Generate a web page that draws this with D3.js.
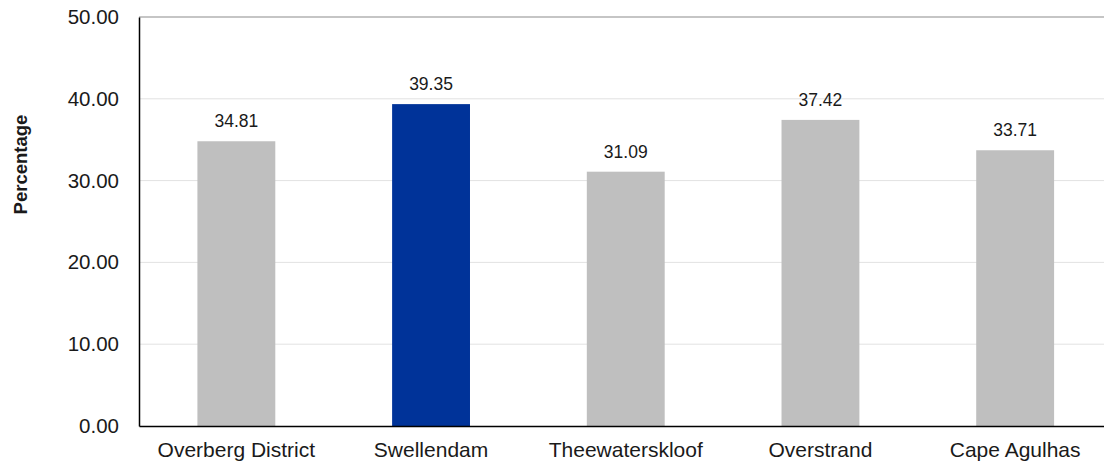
<!DOCTYPE html>
<html>
<head>
<meta charset="utf-8">
<script src="https://cdn.jsdelivr.net/npm/d3@7"></script>
<style>
  html, body { margin: 0; padding: 0; background: #fff; }
  svg { display: block; font-family: "Liberation Sans", Arial, sans-serif; }
</style>
</head>
<body>
<svg id="chart" width="1104" height="465"></svg>
<script>
// Share of population per municipality (percentage)
const categories = ["Overberg District", "Swellendam", "Theewaterskloof", "Overstrand", "Cape Agulhas"];
const values = [34.81, 39.35, 31.09, 37.42, 33.71];
const highlighted = ["Swellendam"];
const yTicks = [0, 10, 20, 30, 40, 50];
const yLabel = "Percentage";

const svg = d3.select("#chart");
const margin = { left: 139, top: 17, bottom: 39 };
const plotRight = 1112.5;
const height = 465;
const y0 = height - margin.bottom;

const x = d3.scaleBand()
  .domain(categories)
  .range([margin.left, plotRight])
  .paddingInner(0.6)
  .paddingOuter(0.3);

const y = d3.scaleLinear()
  .domain([0, 50])
  .range([y0, margin.top]);

// horizontal gridlines
svg.append("g")
  .selectAll("line")
  .data(yTicks.filter(t => t > 0 && t < 50))
  .join("line")
  .attr("x1", margin.left)
  .attr("x2", plotRight)
  .attr("y1", d => y(d))
  .attr("y2", d => y(d))
  .attr("stroke", "#e2e2e2")
  .attr("stroke-width", 1);

// top border of the plot area
svg.append("line")
  .attr("x1", margin.left)
  .attr("x2", plotRight)
  .attr("y1", y(50))
  .attr("y2", y(50))
  .attr("stroke", "#8c8c8c")
  .attr("stroke-width", 1.2);

// bars
svg.append("g")
  .selectAll("rect")
  .data(categories)
  .join("rect")
  .attr("x", d => x(d))
  .attr("width", x.bandwidth())
  .attr("y", (d, i) => y(values[i]))
  .attr("height", (d, i) => y(0) - y(values[i]))
  .attr("fill", d => highlighted.includes(d) ? "#003399" : "#bfbfbf");

// value labels
svg.append("g")
  .selectAll("text")
  .data(categories)
  .join("text")
  .attr("x", d => x(d) + x.bandwidth() / 2)
  .attr("y", (d, i) => y(values[i]) - 14)
  .attr("text-anchor", "middle")
  .attr("font-size", "17.5px")
  .attr("fill", "#1a1a1a")
  .text((d, i) => values[i].toFixed(2));

// y axis
const yAxis = svg.append("g")
  .attr("transform", `translate(${margin.left},0)`)
  .call(d3.axisLeft(y).tickValues(yTicks).tickFormat(d3.format(".2f")).tickSize(0).tickPadding(20));
yAxis.select(".domain").attr("stroke", "#000").attr("stroke-width", 1.5);
yAxis.selectAll("text")
  .attr("font-size", "20.5px")
  .attr("fill", "#1a1a1a")
  .attr("font-family", "Liberation Sans, Arial, sans-serif");

// x axis
const xAxis = svg.append("g")
  .attr("transform", `translate(0,${y0})`)
  .call(d3.axisBottom(x).tickSize(0).tickPadding(16));
xAxis.select(".domain").attr("stroke", "#000").attr("stroke-width", 1.5);
xAxis.selectAll("text")
  .attr("font-size", "21px")
  .attr("fill", "#1a1a1a")
  .attr("font-family", "Liberation Sans, Arial, sans-serif");

// y axis title
svg.append("text")
  .attr("transform", `translate(27,${(y(50) + y(0)) / 2 - 57}) rotate(-90)`)
  .attr("text-anchor", "middle")
  .attr("font-size", "18.5px")
  .attr("font-weight", "bold")
  .attr("fill", "#1a1a1a")
  .text(yLabel);
</script>
</body>
</html>
